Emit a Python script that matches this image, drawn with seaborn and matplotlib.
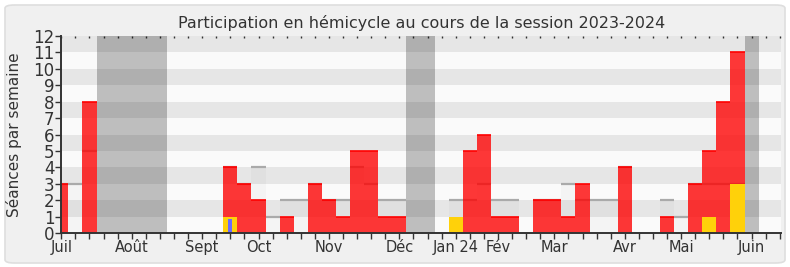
import numpy as np
import pandas as pd
import matplotlib
matplotlib.use("Agg")
import matplotlib.pyplot as plt
from matplotlib.patches import FancyBboxPatch
import seaborn as sns

# ---------------- data ----------------
weeks = list(range(52))
presence = [3, 0, 8, 0, 0, 0, 0, 0, 0, 0, 0, 0, 4, 3, 2, 0, 1, 0, 3, 2, 1, 5, 5, 1, 1, 0,
            0, 0, 0, 5, 6, 1, 1, 0, 2, 2, 1, 3, 0, 0, 4, 0, 0, 1, 0, 3, 5, 8, 11, 0, 0, 0]
interventions = [0, 0, 0, 0, 0, 0, 0, 0, 0, 0, 0, 0, 1, 0, 0, 0, 0, 0, 0, 0, 0, 0, 0, 0, 0, 0,
                 0, 0, 1, 0, 0, 0, 0, 0, 0, 0, 0, 0, 0, 0, 0, 0, 0, 0, 0, 0, 1, 0, 3, 0, 0, 0]
questions = [0, 0, 0, 0, 0, 0, 0, 0, 0, 0, 0, 0, 0.85, 0, 0, 0, 0, 0, 0, 0, 0, 0, 0, 0, 0, 0,
             0, 0, 0, 0, 0, 0, 0, 0, 0, 0, 0, 0, 0, 0, 0, 0, 0, 0, 0, 0, 0, 0, 0, 0, 0, 0]
mediane = [3, 3, 5, 0, 0, 0, 0, 0, 0, 0, 0, 0, 4, 3, 4, 1, 2, 2, 3, 2, 2, 4, 3, 2, 2, 0,
           0, 0, 2, 2, 3, 2, 2, 0, 2, 2, 3, 2, 2, 2, 4, 0, 0, 2, 1, 3, 3, 3, 3, 0, 0, 0]
vacances = [3, 4, 5, 6, 7, 25, 26, 49]
month_labels = ["Juil", "Août", "Sept", "Oct", "Nov", "Déc", "Jan 24", "Fév", "Mar", "Avr", "Mai", "Juin"]
month_weeks = [0, 5, 10, 14, 19, 24, 28, 31, 35, 40, 44, 49]
ymax = 12

df = pd.DataFrame({"week": weeks, "presence": presence, "interventions": interventions,
                   "questions": questions, "mediane": mediane})

# ---------------- figure ----------------
sns.set_theme(style="white")
plt.rcParams["font.family"] = ["DejaVu Sans"]

W, H = 790, 267
fig = plt.figure(figsize=(W / 100, H / 100), dpi=100, facecolor="white")
bg = FancyBboxPatch((5 / W, 4 / H), 780 / W, 258 / H,
                    boxstyle="round,pad=0,rounding_size=0.012",
                    transform=fig.transFigure, facecolor="#f0f0f0",
                    edgecolor="#dedede", linewidth=1.2, zorder=-10)
fig.patches.append(bg)

left, right, top, bottom = 61.3, 781, 36, 233
ax = fig.add_axes([left / W, (H - bottom) / H, (right - left) / W, (bottom - top) / H])
ax.set_zorder(5)
ax.set_facecolor("#fafafa")

# alternating bands
for k in range(1, ymax, 2):
    ax.axhspan(k, k + 1, color="#e6e6e6", zorder=0, linewidth=0)

# median
sns.barplot(data=df, x="week", y="mediane", native_scale=True, width=1, color="black",
            alpha=0.025, linewidth=0, saturation=1, ax=ax, zorder=1)
mw = df[df.mediane > 0]
ax.hlines(mw.mediane, mw.week - 0.5, mw.week + 0.5, color="#aaaaaa", linewidth=1.6, zorder=1.5)

# vacations
for v in vacances:
    ax.axvspan(v - 0.5, v + 0.5, color="black", alpha=0.24, linewidth=0, zorder=1.2)

# presence
sns.barplot(data=df, x="week", y="presence", native_scale=True, width=1, color="#ff0000",
            alpha=0.78, linewidth=0, saturation=1, ax=ax, zorder=2)
pw = df[df.presence > 0]
ax.hlines(pw.presence, pw.week - 0.5, pw.week + 0.5, color="#ff0000", linewidth=1.2, zorder=2.5)

# interventions
sns.barplot(data=df, x="week", y="interventions", native_scale=True, width=1, color="#ffd10a",
            linewidth=0, saturation=1, ax=ax, zorder=3)
# questions
sns.barplot(data=df, x="week", y="questions", native_scale=True, width=0.3, color="#6b6bff",
            linewidth=0, saturation=1, ax=ax, zorder=4)

ax.set_xlim(0, 51.09)
ax.set_ylim(0, ymax)

ax.set_xticks(weeks, minor=True)
ax.set_xticks(month_weeks)
ax.set_xticklabels(month_labels)
ax.set_yticks(range(0, ymax + 1))
ax.tick_params(axis="x", which="both", bottom=True, top=False, direction="out", length=4,
               width=1, color="#333333", labelsize=10.5, labelcolor="#333333", pad=1)
ax.tick_params(axis="y", left=True, direction="out", length=4, width=1, color="#333333",
               labelsize=12, labelcolor="#333333", pad=1)
# small ticks on top edge
sec = ax.secondary_xaxis("top")
sec.set_xticks(weeks)
sec.tick_params(direction="in", length=1.5, width=1, color="#333333", labeltop=False)
sec.spines["top"].set_visible(False)

for s in ["top", "right"]:
    ax.spines[s].set_visible(False)
for s in ["left", "bottom"]:
    ax.spines[s].set_color("#333333")
    ax.spines[s].set_linewidth(1.4)
    ax.spines[s].set_zorder(6)

ax.set_xlabel("")
ax.set_ylabel("Séances par semaine", fontsize=11, color="#333333", labelpad=8)
ax.set_title("Participation en hémicycle au cours de la session 2023-2024",
             fontsize=11.5, color="#333333", pad=6)

fig.savefig("out.png", dpi=100, facecolor=fig.get_facecolor())
